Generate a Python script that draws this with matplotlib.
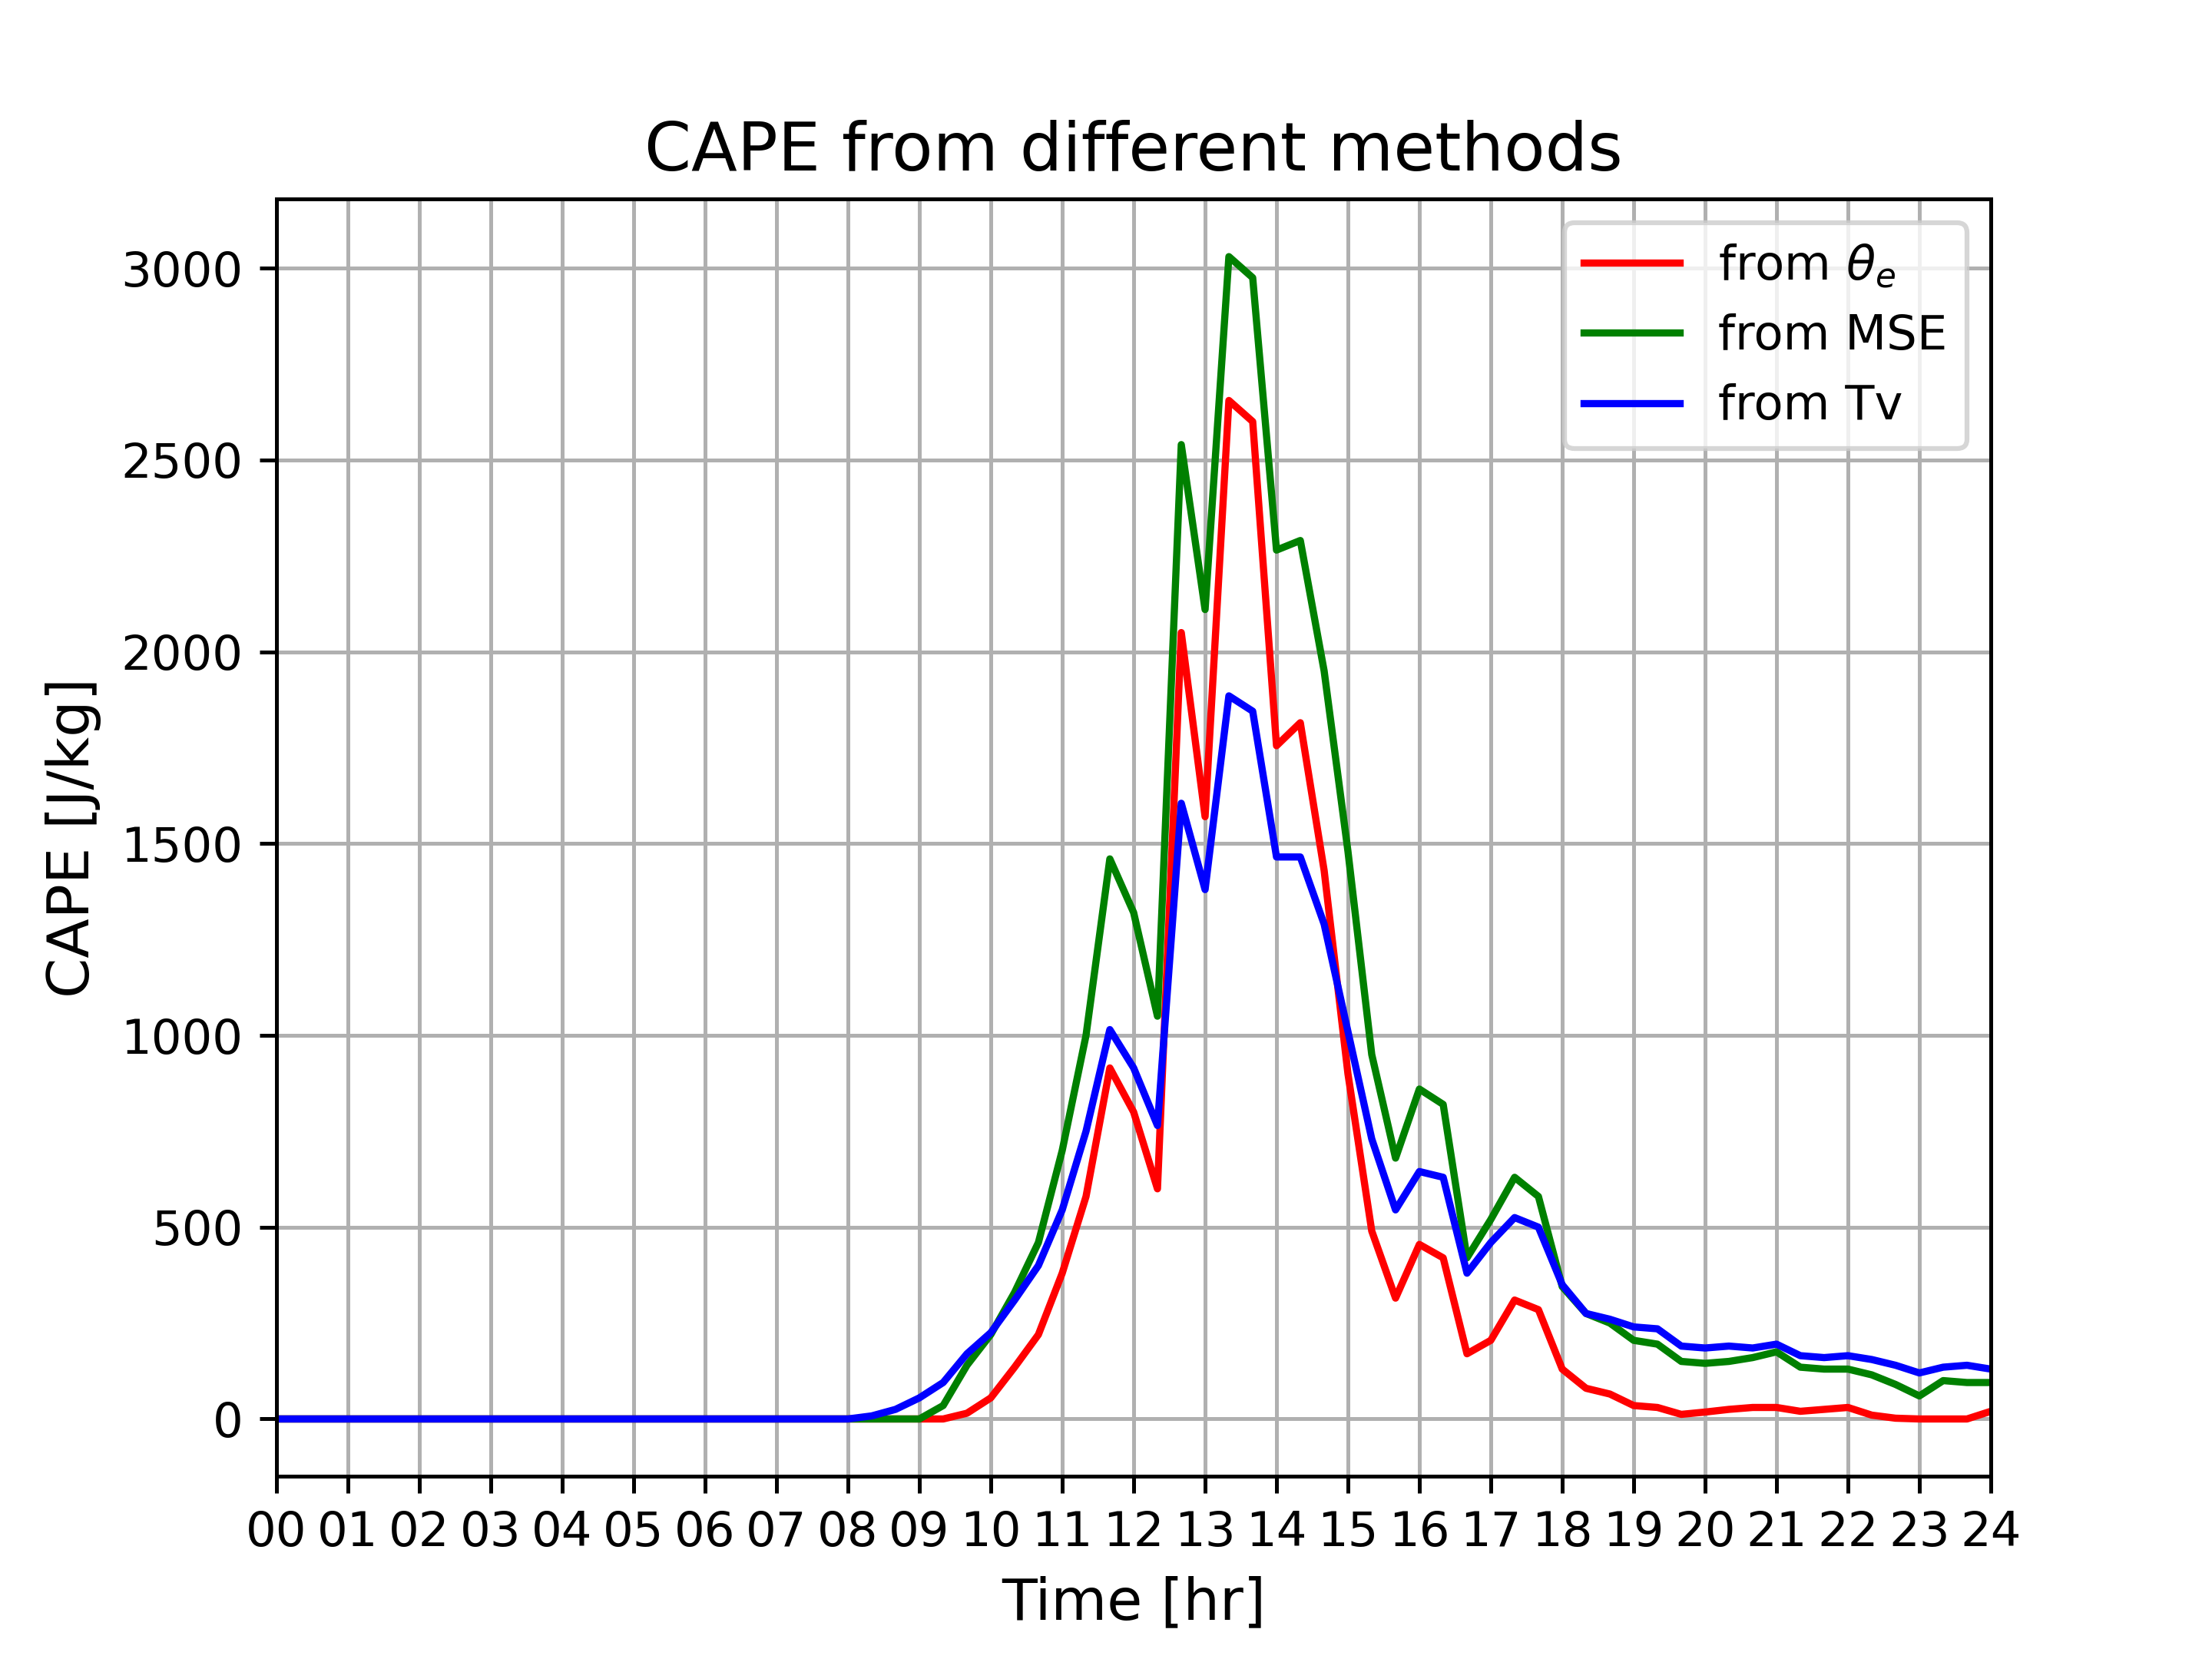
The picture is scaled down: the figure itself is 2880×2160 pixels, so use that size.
# CAPE from three methods over one day

import numpy as np
import matplotlib
matplotlib.use("Agg")
import matplotlib.pyplot as plt

# Time axis: 20-minute steps from 00 to 24 hr
time_hr = np.arange(73) / 3.0

# CAPE [J/kg]
cape_thetae = [0]*28 + [0, 15, 55, 135, 220, 380, 580, 915, 800, 600,
    2050, 1570, 2655, 2600, 1755, 1815, 1430, 900, 490, 315,
    455, 420, 170, 205, 310, 285, 130, 80, 65, 35,
    30, 12, 18, 25, 30, 30, 20, 25, 30, 10,
    2, 0, 0, 0, 20]
cape_mse = [0]*28 + [35, 140, 220, 330, 460, 700, 1000, 1460, 1320, 1050,
    2540, 2110, 3030, 2975, 2265, 2290, 1950, 1480, 950, 680,
    860, 820, 420, 520, 630, 580, 345, 275, 250, 205,
    195, 150, 145, 150, 160, 175, 135, 130, 130, 115,
    90, 60, 100, 95, 95]
cape_tv = [0]*25 + [8, 25, 55, 95, 170, 225, 310, 400, 545, 750, 1015, 915, 765,
    1605, 1380, 1885, 1845, 1465, 1465, 1290, 1010, 730, 545,
    645, 630, 380, 460, 525, 500, 350, 275, 260, 240,
    235, 190, 185, 190, 185, 195, 165, 160, 165, 155,
    140, 120, 135, 140, 130]

hour_labels = ["%02d" % h for h in range(25)]

fig, ax = plt.subplots(figsize=(6.4, 4.8))
ax.plot(time_hr, cape_thetae, color="red", label=r"from $\theta_e$")
ax.plot(time_hr, cape_mse, color="green", label="from MSE")
ax.plot(time_hr, cape_tv, color="blue", label="from Tv")

ax.set_xlim(0, 24)
ax.set_ylim(-150, 3180)
ax.set_xticks(range(25))
ax.set_xticklabels(hour_labels)
ax.grid(True)
ax.set_title("CAPE from different methods", fontsize=14)
ax.set_xlabel("Time [hr]", fontsize=12)
ax.set_ylabel("CAPE [J/kg]", fontsize=12)
ax.legend(loc="upper right")

plt.savefig("out.png", dpi=450)
